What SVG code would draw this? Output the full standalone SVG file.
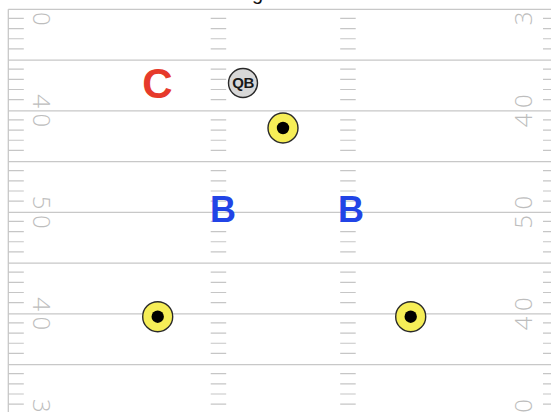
<svg xmlns="http://www.w3.org/2000/svg" xmlns:xlink="http://www.w3.org/1999/xlink" width="551" height="412" viewBox="0 0 551 412">
<style>
.line{stroke:#c8c8c8;stroke-width:1.3;fill:none}
.hash{stroke:#c6c6c6;stroke-width:1.2;fill:none}
.num{font-family:"Open Sans","Liberation Sans",sans-serif;font-weight:300;font-size:24px;fill:#bdbdbd;text-anchor:middle}
.num2{letter-spacing:5.5px}
.letter{font-family:"Liberation Sans",Arial,sans-serif;font-weight:bold;text-anchor:middle}
.dot{fill:#f6ee57;stroke:#2a2a2a;stroke-width:1.4}
.qb{fill:#d8d8d8;stroke:#2a2a2a;stroke-width:1.4}
</style>
<defs>
<path id="hashcol" class="hash" d="M0 19.45h15.5M0 29.6h15.5M0 39.75h15.5M0 49.9h15.5M0 70.2h15.5M0 80.35h15.5M0 90.5h15.5M0 100.65h15.5M0 120.95h15.5M0 131.1h15.5M0 141.25h15.5M0 151.4h15.5M0 171.7h15.5M0 181.85h15.5M0 192h15.5M0 202.15h15.5M0 222.45h15.5M0 232.6h15.5M0 242.75h15.5M0 252.9h15.5M0 273.2h15.5M0 283.35h15.5M0 293.5h15.5M0 303.65h15.5M0 323.95h15.5M0 334.1h15.5M0 344.25h15.5M0 354.4h15.5M0 374.7h15.5M0 384.85h15.5M0 395h15.5M0 405.15h15.5"/>
</defs>
<rect width="551" height="412" fill="#ffffff"/>
<text x="257.5" y="0" font-family="Liberation Sans,Arial,sans-serif" font-size="20" fill="#111" text-anchor="middle">g</text>
<g id="field">
<path class="line" d="M8.3 9.3V412M8.3 9.3H551M8.3 60.05H551M8.3 110.8H551M8.3 161.55H551M8.3 212.3H551M8.3 263.05H551M8.3 313.8H551M8.3 364.55H551"/>
<use xlink:href="#hashcol" x="8.3" y="-1"/>
<use xlink:href="#hashcol" x="210.7" y="-1"/>
<use xlink:href="#hashcol" x="340.2" y="-1"/>
<use xlink:href="#hashcol" x="543" y="-1"/>
<text class="num" transform="translate(33,18.8) rotate(90)">0</text>
<text class="num num2" transform="translate(33,110.8) rotate(90)" x="2.75">40</text>
<text class="num num2" transform="translate(33,212.3) rotate(90)" x="2.75">50</text>
<text class="num num2" transform="translate(33,313.8) rotate(90)" x="2.75">40</text>
<text class="num" transform="translate(33,405.8) rotate(90)">3</text>
<text class="num" transform="translate(532,18.3) rotate(-90)">3</text>
<text class="num num2" transform="translate(532,110.8) rotate(-90)" x="2.75">40</text>
<text class="num num2" transform="translate(532,212.3) rotate(-90)" x="2.75">50</text>
<text class="num num2" transform="translate(532,313.8) rotate(-90)" x="2.75">40</text>
<text class="num" transform="translate(532,405.8) rotate(-90)">0</text>
</g>
<g id="connectors"/>
<g id="C"><text class="letter" x="157.5" y="97.5" font-size="42" fill="#e63a2b">C</text></g>
<g id="QB"><circle class="qb" cx="243" cy="83" r="14.5"/><text x="243" y="88.3" font-family="Liberation Sans,Arial,sans-serif" font-size="15" font-weight="bold" fill="#1a1a1a" text-anchor="middle" letter-spacing="-0.6">QB</text></g>
<g id="D1"><circle class="dot" cx="283" cy="128" r="15"/><circle cx="283" cy="128" r="6.2" fill="#000"/></g>
<g id="B1"><text class="letter" x="223" y="221.5" font-size="36" fill="#2244e6">B</text></g>
<g id="B2"><text class="letter" x="351" y="221.5" font-size="36" fill="#2244e6">B</text></g>
<g id="D2"><circle class="dot" cx="157.7" cy="316.7" r="15"/><circle cx="157.7" cy="316.7" r="6.2" fill="#000"/></g>
<g id="D3"><circle class="dot" cx="410.7" cy="316.7" r="15"/><circle cx="410.7" cy="316.7" r="6.2" fill="#000"/></g>
</svg>
